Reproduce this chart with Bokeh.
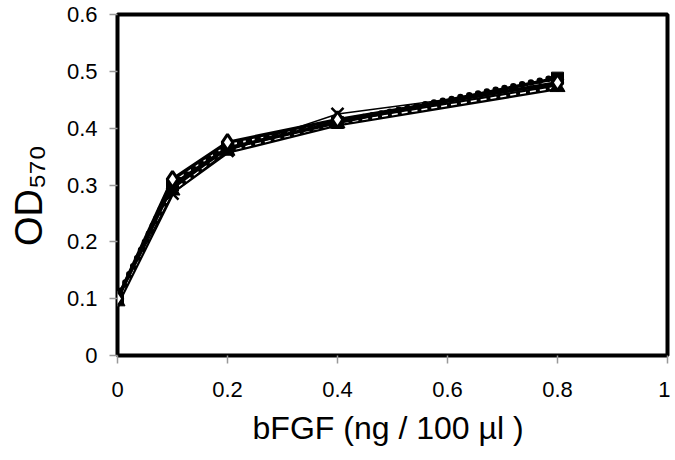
from bokeh.plotting import figure
from bokeh.models import Range1d, FixedTicker
from bokeh.embed import file_html
from bokeh.resources import INLINE

dose = [0, 0.1, 0.2, 0.4, 0.8]
s_diamond = [0.10, 0.31, 0.375, 0.415, 0.48]
s_square = [0.10, 0.30, 0.365, 0.41, 0.488]
s_triangle = [0.095, 0.29, 0.36, 0.408, 0.472]
s_cross = [0.10, 0.285, 0.36, 0.425, 0.476]
s_dotted = [0.10, 0.30, 0.37, 0.41, 0.49]

x_ticks = [0, 0.2, 0.4, 0.6, 0.8, 1]
y_ticks = [0, 0.1, 0.2, 0.3, 0.4, 0.5, 0.6]
x_title = "bFGF (ng / 100 µl  )"
y_title = "OD\u2085\u2087\u2080\u00a0\u00a0"

FONT = "Liberation Sans"

p = figure(width=670, height=452, output_backend="svg", toolbar_location=None,
           x_range=Range1d(0, 1), y_range=Range1d(0, 0.6),
           min_border_left=117, min_border_right=3, min_border_top=14, min_border_bottom=97)
p.background_fill_color = "white"
p.border_fill_color = "white"
p.outline_line_color = "black"
p.outline_line_width = 4
p.xgrid.visible = False
p.ygrid.visible = False

for ax in (p.xaxis[0], p.yaxis[0]):
    ax.axis_line_color = None
    ax.major_tick_line_color = "#999999"
    ax.major_tick_line_width = 1.5
    ax.major_tick_in = 0
    ax.major_tick_out = 8
    ax.minor_tick_line_color = None
    ax.major_label_text_font = FONT
    ax.major_label_text_font_size = "22px"
    ax.major_label_text_color = "black"
    ax.axis_label_text_font = FONT
    ax.axis_label_text_font_style = "normal"
    ax.axis_label_text_color = "black"

p.xaxis[0].ticker = FixedTicker(ticks=x_ticks)
p.yaxis[0].ticker = FixedTicker(ticks=y_ticks)
p.xaxis[0].major_label_overrides = {0: "0", 1: "1"}
p.yaxis[0].major_label_overrides = {0: "0"}
p.xaxis[0].major_label_standoff = 18
p.yaxis[0].major_label_standoff = 12
p.xaxis[0].axis_label = x_title
p.xaxis[0].axis_label_text_font_size = "32px"
p.xaxis[0].axis_label_standoff = 10
p.yaxis[0].axis_label = y_title
p.yaxis[0].axis_label_text_font_size = "38px"
p.yaxis[0].axis_label_standoff = 14

# series
p.line(dose, s_dotted, line_color="black", line_width=6.5, line_dash="0 9", line_cap="round")
p.line(dose, s_triangle, line_color="black", line_width=6)
p.line(dose, s_triangle, line_color="white", line_width=1.5, line_dash="6 4")
p.line(dose, s_square, line_color="black", line_width=3.5)
p.line(dose, s_diamond, line_color="black", line_width=3.5)
p.line(dose, s_cross, line_color="black", line_width=1.5)

p.scatter(dose, s_square, marker="square", size=12, fill_color="black", line_color="black")
p.scatter(dose, s_triangle, marker="triangle", size=15, fill_color="black", line_color="black")
p.scatter(dose, s_cross, marker="x", size=17, line_color="black", line_width=2.5)
p.scatter(dose, s_diamond, marker="diamond", size=16, fill_color="white", line_color="black", line_width=3)

open("out.html", "w").write(file_html(p, INLINE))
